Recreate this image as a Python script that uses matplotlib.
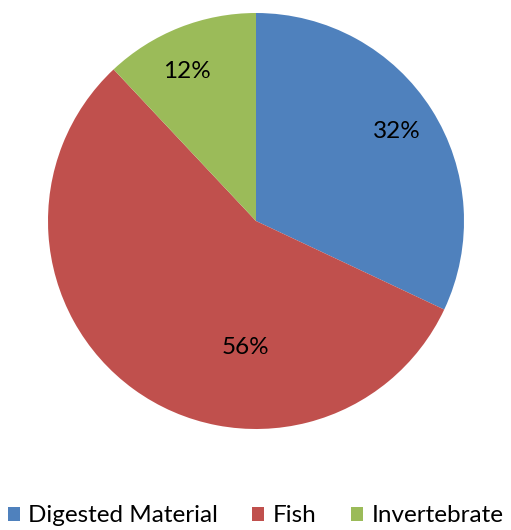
import matplotlib.pyplot as plt
from matplotlib.patches import Patch

categories = ['Digested Material', 'Fish', 'Invertebrate']
values = [32, 56, 12]
colors = ['#4F81BD', '#C0504D', '#9BBB59']

plt.rcParams['font.family'] = ['Lato', 'DejaVu Sans']

fig = plt.figure(figsize=(5.11, 5.30), dpi=100)
ax = fig.add_axes([48 / 511, 101 / 530, 416 / 511, 416 / 530])

wedges, texts, autotexts = ax.pie(values, colors=colors, startangle=90,
                                  counterclock=False, autopct='%.0f%%',
                                  pctdistance=0.8,
                                  textprops={'fontsize': 17.5, 'color': '#000000'})
# the large slice gets its label pulled in toward the centre
autotexts[1].set_position((-0.05, -0.61))
autotexts[2].set_position((-0.33, 0.72))
ax.set_xlim(-1, 1)
ax.set_ylim(-1, 1)
ax.set_aspect('equal')

handles = [Patch(facecolor=c, edgecolor='none') for c in colors]
fig.legend(handles, categories, loc='center', bbox_to_anchor=(0.5, 14 / 530),
           ncol=3, frameon=False, fontsize=17.5, handlelength=0.5, handleheight=0.5,
           handletextpad=0.35, columnspacing=1.4)

fig.savefig('out.png', dpi=100)
